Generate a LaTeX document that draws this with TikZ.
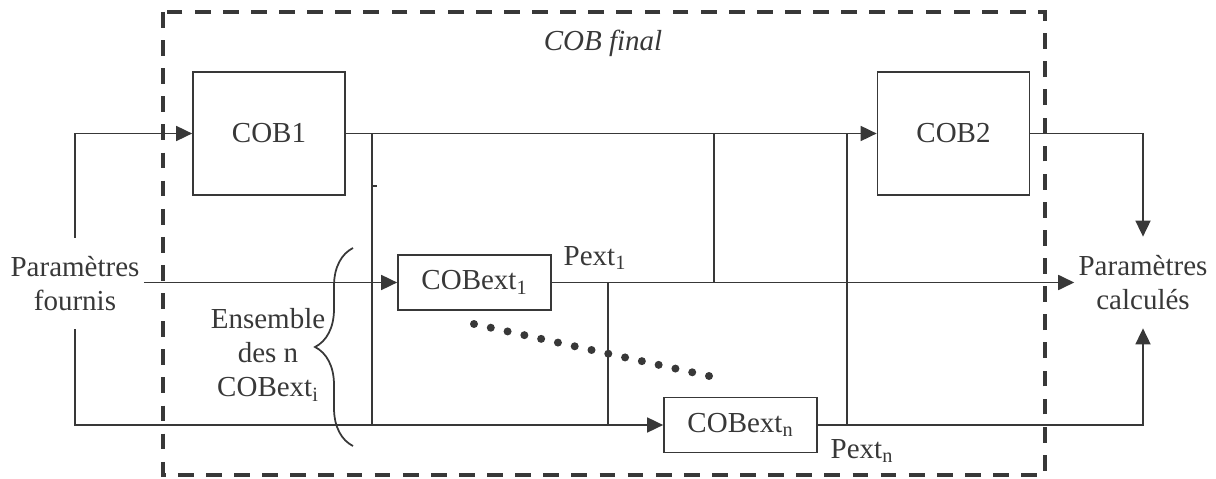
\documentclass[tikz,border=0pt]{standalone}
\usepackage{fontspec}
\setmainfont{Liberation Serif}
\usepackage{xcolor}
\usepackage{tikz}
\usetikzlibrary{arrows.meta,calc,decorations.pathreplacing}

\definecolor{ink}{HTML}{383838}

\tikzset{
  box/.style={draw, rectangle, minimum width=3.04cm, minimum height=2.46cm, inner sep=0pt},
  extbox/.style={draw, rectangle, minimum width=3.06cm, minimum height=1.1cm, inner sep=0pt},
  param/.style={align=center, minimum height=1.8cm, inner xsep=2pt, inner ysep=0pt},
  link/.style={-{Triangle[length=0.32cm,width=0.3cm]}},
  frame/.style={line width=2.3pt, dash pattern=on 9pt off 7pt}
}

\begin{document}
\fontsize{16.5}{19.3}\selectfont
\begin{tikzpicture}[x=0.02cm, y=-0.02cm, line width=1pt, color=ink]
        \useasboundingbox (0,0) rectangle (1216,479);

        %% The dashed frame of the final COB
        \draw [frame] (163,12) rectangle (1045,475);
        \node [font=\itshape] (final) at (603,43) {COB final};

        %% Blocks
        \node [box] (cob1) at (269,133.5) {COB1};
        \node [box] (cob2) at (953.5,133.5) {COB2};
        \node [extbox] (ext1) at (474.5,282.5) {COBext\textsubscript{1}};
        \node [extbox] (extn) at (740.5,425) {COBext\textsubscript{n}};

        %% Inputs and outputs
        \node [param] (fournis) at (75,283.5) {Paramètres\\fournis};
        \node [param] (calcules) at (1143,282.5) {Paramètres\\calculés};

        %% Vertical buses (only x is used)
        \coordinate (busA) at (372,0);
        \coordinate (busB) at (608,0);
        \coordinate (busC) at (714,0);
        \coordinate (busD) at (847,0);
        \coordinate (tick) at (377,186);

        %% Connectors
        \draw [link] (fournis.north) |- (cob1.west);
        \draw [link] (fournis.east |- ext1.west) -- (ext1.west);
        \draw [link] (fournis.south) |- (extn.west);

        \draw [link] (cob1.east) -- (cob2.west);
        \draw [link] (ext1.east) -- (calcules.west);
        \draw [link] (cob2.east) -| (calcules.north);
        \draw [link] (extn.east) -| (calcules.south);

        \draw (busA |- cob1.east) -- (busA |- extn.west);
        \draw (busA |- tick) -- (tick);
        \draw (busB |- ext1.east) -- (busB |- extn.west);
        \draw (busC |- cob1.east) -- (busC |- ext1.east);
        \draw (busD |- cob2.west) -- (busD |- extn.east);

        %% Output labels
        \node (pext1) at (595,258) {Pext\textsubscript{1}};
        \node (pextn) at (862,451) {Pext\textsubscript{n}};

        %% The set of the n extra COBs
        \draw [decorate, decoration={brace, amplitude=0.76cm}] (353,446) -- (353,248);
        \node [align=center] (ensemble) at (268,355) {Ensemble\\des n\\COBext\textsubscript{i}};

        %% Dots between the first and the last
        \coordinate (dotA) at (474,324);
        \coordinate (dotB) at (709,376);
        \foreach \k in {0,...,14}
            \fill ($(dotA)!\k/14!(dotB)$) circle (0.08cm);
\end{tikzpicture}
\end{document}
